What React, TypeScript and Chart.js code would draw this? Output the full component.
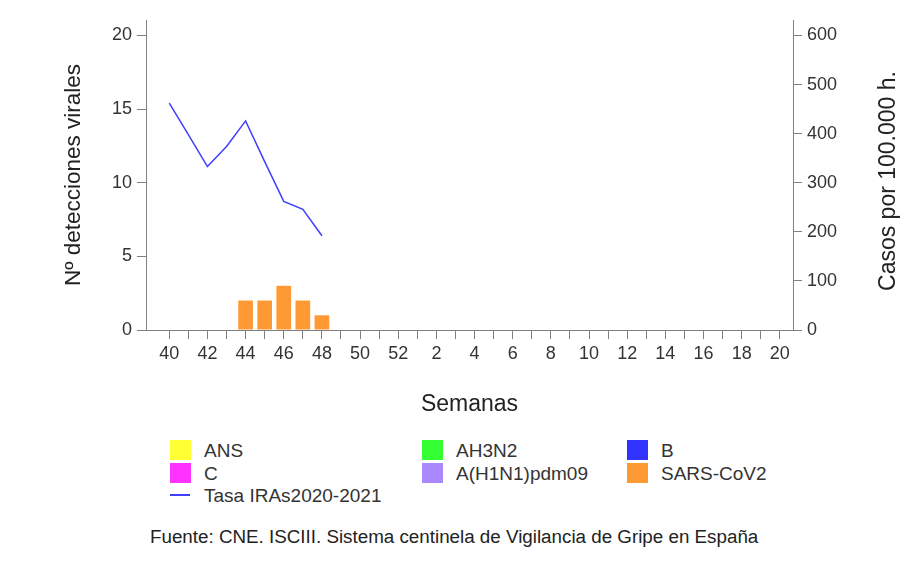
import React, { useEffect, useRef } from 'react';
import { Chart, registerables } from 'chart.js';

Chart.register(...registerables);

// Weeks of the 2020-2021 season (week 40 to week 20)
const weeks = ['40','41','42','43','44','45','46','47','48','49','50','51','52','1','2','3','4','5','6','7','8','9','10','11','12','13','14','15','16','17','18','19','20'];

// Viral detections per week (weeks 40..48)
const ans = [0, 0, 0, 0, 0, 0, 0, 0, 0];
const ah3n2 = [0, 0, 0, 0, 0, 0, 0, 0, 0];
const fluB = [0, 0, 0, 0, 0, 0, 0, 0, 0];
const fluC = [0, 0, 0, 0, 0, 0, 0, 0, 0];
const h1n1pdm09 = [0, 0, 0, 0, 0, 0, 0, 0, 0];
const sarsCov2 = [0, 0, 0, 0, 2, 2, 3, 2, 1];

// Tasa IRAs 2020-2021 (casos por 100.000 h.), weeks 40..48
const tasaIRAs = [462, 398, 333, 374, 426, 343, 262, 246, 192];

const leftTickValues = [0, 5, 10, 15, 20];
const rightTickValues = [0, 100, 200, 300, 400, 500, 600];

const FONT = "'Liberation Sans', Arial, sans-serif";

const virusSeries = [
  { label: 'ANS', data: ans, color: '#FFFF33' },
  { label: 'AH3N2', data: ah3n2, color: '#33FF33' },
  { label: 'B', data: fluB, color: '#3333FF' },
  { label: 'C', data: fluC, color: '#FF33FF' },
  { label: 'A(H1N1)pdm09', data: h1n1pdm09, color: '#AA88FF' },
  { label: 'SARS-CoV2', data: sarsCov2, color: '#FF9933' },
];
const lineLabel = 'Tasa IRAs2020-2021';
const lineColor = '#3F3FFF';
const rightTitle = 'Casos por 100.000 h.';

export default function App() {
  const ref = useRef<HTMLCanvasElement>(null);

  useEffect(() => {
    if (!ref.current) return;
    const toPts = (arr: number[]) => arr.map((v, i) => ({ x: i, y: v }));
    const chart = new Chart(ref.current, {
      data: {
        datasets: [
          {
            type: 'line',
            label: lineLabel,
            data: toPts(tasaIRAs),
            yAxisID: 'y1',
            borderColor: lineColor,
            borderWidth: 1.5,
            pointRadius: 0,
            tension: 0,
            order: 0,
          } as any,
          ...virusSeries.map((s) => ({
            type: 'bar',
            label: s.label,
            data: toPts(s.data),
            yAxisID: 'y',
            backgroundColor: s.color,
            borderWidth: 0,
            grouped: false,
            categoryPercentage: 1,
            barPercentage: 0.77,
            order: 1,
          })) as any,
        ],
      },
      options: {
        responsive: false,
        animation: false,
        layout: { padding: { top: 20, left: 0, right: 0, bottom: 0 } },
        plugins: { legend: { display: false }, tooltip: { enabled: false } },
        scales: {
          x: {
            type: 'linear',
            min: -1.22,
            max: 32.69,
            offset: false,
            grid: { offset: false, drawOnChartArea: false, tickLength: 9, color: '#808080', tickColor: '#808080' },
            border: { color: '#808080', width: 1 },
            afterBuildTicks: (s: any) => { s.ticks = weeks.map((_, i) => ({ value: i })); },
            ticks: {
              autoSkip: false,
              maxRotation: 0,
              minRotation: 0,
              padding: 4,
              color: '#333',
              font: { family: FONT, size: 18 },
              callback: (v: any) => {
                const n = Number(v);
                return Number.isInteger(n) && n % 2 === 0 ? weeks[n] : '';
              },
            },
            title: {
              display: true,
              text: 'Semanas',
              color: '#222',
              font: { family: FONT, size: 23 },
              padding: { top: 0, bottom: 2 },
            },
            afterFit: (s: any) => { s.height = 90; },
          },
          y: {
            type: 'linear',
            position: 'left',
            min: 0,
            max: 21.05,
            grid: { drawOnChartArea: false, tickLength: 9, color: '#808080', tickColor: '#808080' },
            border: { color: '#808080', width: 1 },
            afterBuildTicks: (s: any) => { s.ticks = leftTickValues.map((v) => ({ value: v })); },
            ticks: { color: '#333', padding: 5, font: { family: FONT, size: 18 } },
            title: {
              display: true,
              text: 'Nº detecciones virales',
              color: '#222',
              font: { family: FONT, size: 22.5 },
              padding: { top: 60, bottom: 0 },
            },
            afterFit: (s: any) => { s.width = 146; },
          },
          y1: {
            type: 'linear',
            position: 'right',
            min: 0,
            max: 631.5,
            grid: { drawOnChartArea: false, tickLength: 9, color: '#808080', tickColor: '#808080' },
            border: { color: '#808080', width: 1 },
            afterBuildTicks: (s: any) => { s.ticks = rightTickValues.map((v) => ({ value: v })); },
            ticks: { color: '#333', padding: 5, font: { family: FONT, size: 18 } },
            title: { display: false },
            afterFit: (s: any) => { s.width = 108; },
          },
        },
      },
    });
    return () => chart.destroy();
  }, []);

  const legendCols = [170, 422, 627];
  const legendRows = [440, 463];
  const textStyle: React.CSSProperties = {
    position: 'absolute',
    fontFamily: FONT,
    fontSize: 19,
    lineHeight: '20px',
    color: '#333',
    whiteSpace: 'nowrap',
  };

  return (
    <div style={{ position: 'absolute', left: 0, top: 0, width: 901, height: 575, background: '#fff', overflow: 'hidden' }}>
      <canvas ref={ref} width={901} height={420} style={{ position: 'absolute', left: 0, top: 0 }} />
      <div
        style={{
          position: 'absolute',
          left: 887 - 150,
          top: 181 - 14,
          width: 300,
          height: 28,
          lineHeight: '28px',
          textAlign: 'center',
          fontFamily: FONT,
          fontSize: 23,
          color: '#222',
          whiteSpace: 'nowrap',
          transform: 'rotate(-90deg)',
          transformOrigin: '50% 50%',
        }}
      >
        {rightTitle}
      </div>
      {virusSeries.map((s, i) => {
        const col = legendCols[i % 3];
        const row = legendRows[Math.floor(i / 3)];
        return (
          <React.Fragment key={s.label}>
            <div style={{ position: 'absolute', left: col, top: row, width: 21, height: 20, background: s.color }} />
            <div style={{ ...textStyle, left: col + 34, top: row + 1 }}>{s.label}</div>
          </React.Fragment>
        );
      })}
      <div style={{ position: 'absolute', left: 170, top: 494, width: 20, height: 2, background: lineColor }} />
      <div style={{ ...textStyle, left: 204, top: 486 }}>{lineLabel}</div>
      <div style={{ ...textStyle, left: 150, top: 527, fontSize: 18.8, color: '#222' }}>
        Fuente: CNE. ISCIII. Sistema centinela de Vigilancia de Gripe en España
      </div>
    </div>
  );
}
